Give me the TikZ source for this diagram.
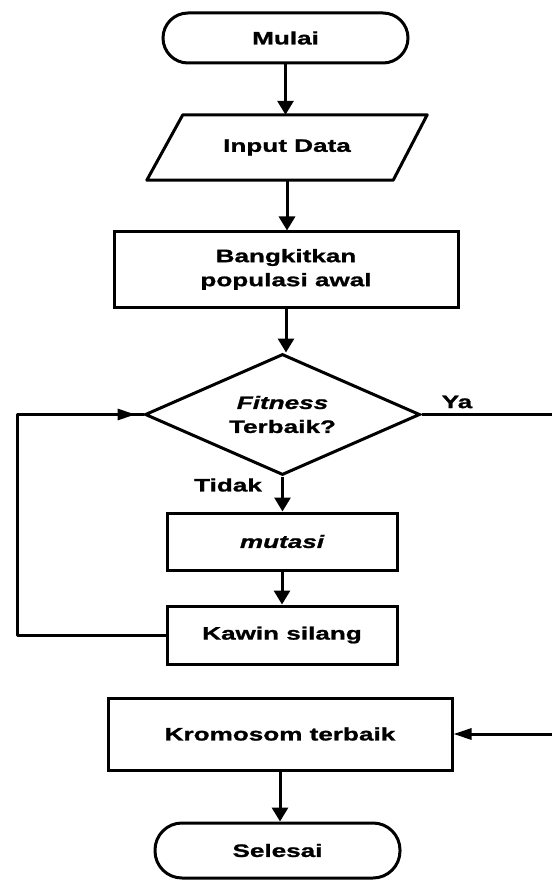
\documentclass[tikz,border=0pt]{standalone}
\usepackage{fontspec}
\setmainfont{Liberation Sans}[FakeStretch=1.45,BoldFeatures={FakeBold=1.2},BoldItalicFeatures={FakeBold=1.2}]
\usetikzlibrary{shapes.geometric,arrows.meta}
\tikzset{
  base/.style={draw=black,line width=3pt,inner sep=0pt,align=center,
    font=\fontsize{18}{24}\selectfont\bfseries},
  term/.style={base,rounded corners=25pt},
  proc/.style={base,rectangle},
  iobox/.style={inner sep=0pt,align=center,font=\fontsize{18}{24}\selectfont\bfseries},
  dec/.style={base,diamond,aspect=2.27},
  lbl/.style={font=\fontsize{18}{24}\selectfont\bfseries,inner sep=0pt},
  conn/.style={line width=3pt},
  arrow/.style={conn,-{Triangle[length=14pt,width=16pt]}},
  sidearrow/.style={conn,-{Triangle[length=18pt,width=11pt]}}
}
\begin{document}
\begin{tikzpicture}[x=1pt,y=-1pt]
\useasboundingbox (0,0) rectangle (551,882);
\fill[white] (0,0) rectangle (551,882);
\node[term,minimum width=245pt,minimum height=50pt] (mulai) at (285.5,38) {Mulai};
\node[iobox,minimum width=244pt,minimum height=65pt] (input) at (287,147.5) {Input Data};
\draw[line width=3pt,line join=round] ([xshift=18pt]input.north west) -- ([xshift=18pt]input.north east)
  -- ([xshift=-16pt]input.south east) -- ([xshift=-18pt]input.south west) -- cycle;
\node[proc,minimum width=344pt,minimum height=75pt] (bangkit) at (286,269.5) {Bangkitkan\\populasi awal};
\node[dec,minimum width=275pt,minimum height=121pt] (dec) at (282.5,414.5) {\itshape Fitness\\Terbaik?};
\node[proc,minimum width=230pt,minimum height=57pt] (mutasi) at (282,541.5) {\itshape mutasi};
\node[proc,minimum width=230pt,minimum height=58pt] (kawin) at (282,635) {Kawin silang};
\node[proc,minimum width=344pt,minimum height=72pt] (krom) at (280,734) {Kromosom terbaik};
\node[term,minimum width=245pt,minimum height=55pt,rounded corners=27pt] (selesai) at (277.5,850.5) {Selesai};
\node[lbl] (ya) at (457,402) {Ya};
\node[lbl] (tidak) at (228,485) {Tidak};
\coordinate (lx) at (17,0);
\coordinate (rx) at (565,0);
\draw[arrow] (mulai.south) -- (mulai.south |- input.north);
\draw[arrow] (input.south) -- (input.south |- bangkit.north);
\draw[arrow] (bangkit.south) -- (bangkit.south |- dec.north);
\draw[arrow] (dec.south) -- (dec.south |- mutasi.north);
\draw[arrow] (mutasi.south) -- (mutasi.south |- kawin.north);
\draw[arrow] (krom.south) -- (krom.south |- selesai.north);
\draw[conn,line join=round] (kawin.west) -- (kawin.west -| lx) -- (lx |- dec.west) -- (dec.west);
\draw[sidearrow] (lx |- dec.west) -- ([xshift=-8pt]dec.west);
\draw[sidearrow] (dec.east) -- (dec.east -| rx) -- (rx |- krom.east) -- (krom.east);
\end{tikzpicture}
\end{document}
